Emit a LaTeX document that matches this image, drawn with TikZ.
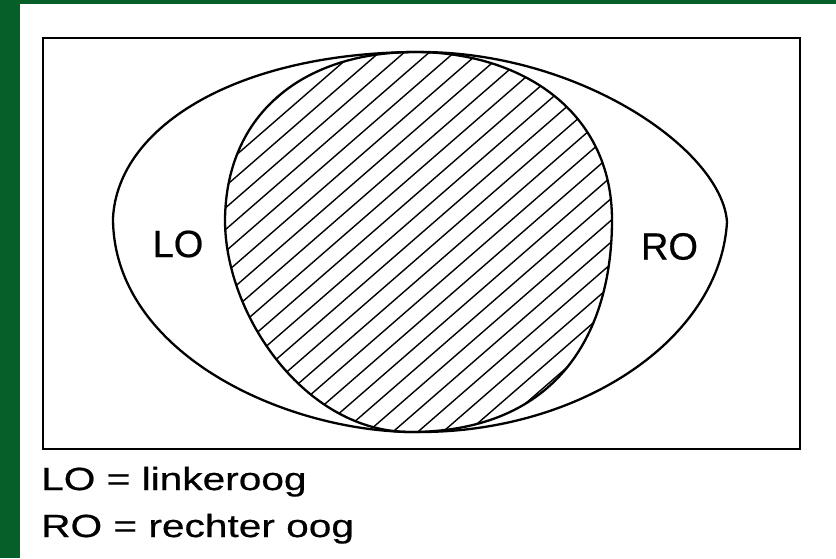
\documentclass[tikz,border=0pt]{standalone}
\usepackage{fontspec}
\setmainfont{Liberation Sans}
\newfontfamily\legendfont[FakeStretch=1.27,FakeBold=0.6]{Liberation Sans}
\newfontfamily\labelfont[FakeBold=0.5]{Liberation Sans}
\definecolor{frameGreen}{RGB}{6,94,40}
\begin{document}
\begin{tikzpicture}[x=1pt,y=-1pt,
  outline/.style={line width=2.3pt,black,line join=round},
  hatch/.style={line width=1.4pt,black},
  eyelabel/.style={font=\labelfont\fontsize{38}{40}\selectfont,inner sep=0pt},
  legend/.style={font=\legendfont\fontsize{32}{36}\selectfont,inner sep=0pt,anchor=base west}]
  % canvas
  \fill[white] (0,0) rectangle (836,558);
  \useasboundingbox (0,0) rectangle (836,558);
  \fill[frameGreen] (0,0) rectangle (20,558);
  \fill[frameGreen] (0,0) rectangle (836,4);
  % frame
  \draw[line width=2.3pt] (43,38) rectangle (800,449);
  % hatched overlap region
  \begin{scope}
    \clip (225,220) .. controls (226,112) and (305,52) .. (415,52)
          .. controls (520,52) and (612,110) .. (612,220)
          .. controls (612,330) and (560,432) .. (410,432)
          .. controls (305,432) and (225,315) .. cycle;
    \foreach \c in {-278,-253,...,622}
      \draw[hatch] (\c,450) -- (\c+483,30);
  \end{scope}
  \draw[outline] (225,220) .. controls (226,112) and (305,52) .. (415,52)
          .. controls (520,52) and (612,110) .. (612,220)
          .. controls (612,330) and (560,432) .. (410,432)
          .. controls (305,432) and (225,315) .. cycle;
  % outer visual field
  \draw[outline] (113,218) .. controls (118,125) and (240,52) .. (420,52)
          .. controls (580,52) and (722,150) .. (727,222)
          .. controls (720,340) and (580,432) .. (420,432)
          .. controls (290,434) and (113,355) .. cycle;
  % labels
  \node[eyelabel] (lo) at (178,244) {LO};
  \node[eyelabel] (ro) at (669.5,246.5) {RO};
  % legend
  \node[legend] (leg1) at (41,490) {LO = linkeroog};
  \node[legend] (leg2) at (41,537) {RO = rechter oog};
\end{tikzpicture}
\end{document}
